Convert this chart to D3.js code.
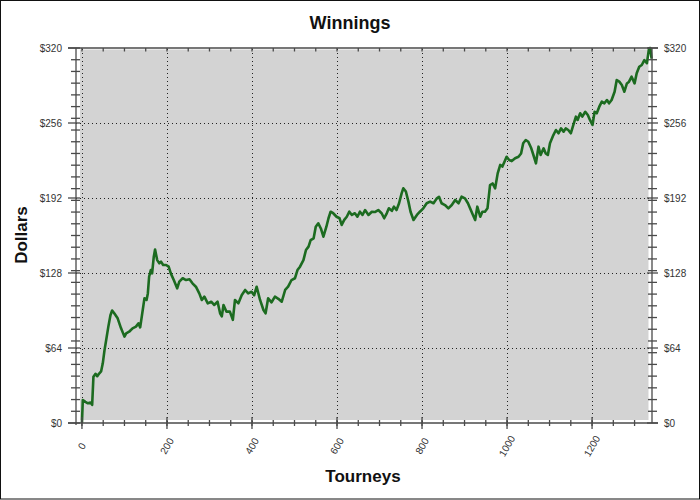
<!DOCTYPE html>
<html>
<head>
<meta charset="utf-8">
<script src="https://cdn.jsdelivr.net/npm/d3@7/dist/d3.min.js"></script>
<style>
html,body{margin:0;padding:0;background:#fff;}
svg{display:block;font-family:Arial,"Liberation Sans",sans-serif;}
</style>
</head>
<body>
<svg id="chart" width="700" height="500"></svg>
<script>
// ---- data ----
const tourneys = [0,2,8,14,20,24,27,32,36,41,45,49,53,57,62,67,71,76,84,92,100,104,111,119,127,133,137,143,147,152,155,158,162,165,169,172,177,182,186,191,198,204,209,216,224,229,237,245,253,260,268,276,282,288,296,304,311,319,325,329,333,340,348,355,360,368,376,384,391,399,405,411,419,427,432,438,446,454,462,470,478,485,493,501,507,513,521,527,533,538,545,550,556,562,568,575,580,585,591,599,606,611,617,623,629,635,642,648,654,660,666,674,682,689,697,705,711,717,722,729,734,740,746,752,756,762,768,773,780,788,795,803,811,819,827,835,840,846,854,862,870,878,886,893,901,908,913,918,925,930,937,942,948,954,960,966,972,978,984,989,994,999,1005,1011,1019,1027,1033,1038,1044,1050,1057,1062,1068,1074,1079,1086,1091,1096,1101,1109,1115,1121,1127,1133,1138,1144,1150,1156,1162,1166,1172,1177,1184,1190,1195,1201,1206,1211,1217,1223,1229,1235,1240,1246,1253,1258,1264,1270,1276,1282,1287,1293,1300,1305,1311,1317,1323,1329,1334,1337,1340];
const dollars = [0,19.6,18,16.8,17.5,15.5,39.5,42,40,42.4,44,50.9,62,70.8,82,92,96,93.6,89.3,80.8,73.7,76.5,77.9,80.8,82.2,85,81.6,96.4,106.4,105,110.6,124.8,130.5,127.7,141.9,148,139,136.3,137.7,134.8,134.8,133.4,127.7,122,114.9,120.6,123.5,122,122.6,119.2,116.3,110.6,105,107.8,102.1,103.5,100.7,103.5,93.6,91,100.7,95,95,88,105,102.1,109.2,113.5,110.6,112,109,116.3,105,96.4,93.6,106.4,103,107.8,106,103.5,113.5,116.3,122,123.5,130.5,133.4,139,147.6,150.5,156,157.6,167.5,170.4,166,159,167.5,174.7,180.3,179,176,174.7,169,173.3,176,180.3,177.5,179,176,180.3,177.5,181.7,177.5,180.3,180,181.7,179,174.7,178.9,183.2,181,184.6,181.7,187.5,196,200.3,197.5,188.9,180.3,173.2,177.5,180.3,183.2,187.5,188.9,187.5,191.7,193,187.5,186,183.2,186,190.3,187.5,193.1,191.7,187.5,183.2,178.9,173.2,184.6,176,180.3,180.3,183.2,203,204.4,200.3,213,220.2,218.8,223,227.2,224.4,223.5,225.9,227.2,230,238.7,241.5,240,234.4,228.7,221.6,235.8,228.7,234.4,230,228.7,238.7,245.7,250,247.2,251.4,248.6,251.4,250,247.2,254.3,261.4,258.6,264.3,261.4,265.6,262.8,258.6,254.3,265.6,264.3,269.9,274.2,272.8,275.6,272.8,275.6,282.7,292.7,291.3,288.4,282.7,289.8,291.3,295.5,289.8,298.4,304,305.5,309.7,307,319.7,320,311];

const xMajorTicks = [0,200,400,600,800,1000,1200];
const xMinorTicks = [0,50,100,150,200,250,300,350,400,450,500,550,600,650,700,750,800,850,900,950,1000,1050,1100,1150,1200,1250,1300];
const yMajorTicks = [0,64,128,192,256,320];
const yMinorTicks = [10,20,30,40,50,60,70,80,90,100,110,120,130,140,150,160,170,180,190,200,210,220,230,240,250,260,270,280,290,300,310];
const titleText = "Winnings";
const xTitle = "Tourneys";
const yTitle = "Dollars";

// ---- drawing ----
const svg = d3.select("#chart");
const L = 76, R = 652, T = 48, B = 423;
const x = d3.scaleLinear().domain([-14, 1341]).range([L, R]);
const y = d3.scaleLinear().domain([0, 320]).range([B, T]);
const axisColor = "#4a4a4a";

// outer frame
svg.append("rect").attr("x",0.5).attr("y",0.5).attr("width",699).attr("height",498.5)
  .attr("fill","#fff").attr("stroke","#111").attr("stroke-width",1);

// plot background
svg.append("rect").attr("x",L+4).attr("y",T+1.5).attr("width",R-L-7.5).attr("height",B-T-4.5)
  .attr("fill","#d3d3d3");

// gridlines
svg.append("g").selectAll("line").data(xMajorTicks).join("line")
  .attr("x1",d=>Math.round(x(d))+0.5).attr("x2",d=>Math.round(x(d))+0.5)
  .attr("y1",T+1).attr("y2",B)
  .attr("stroke","#222").attr("stroke-width",1).attr("stroke-dasharray","1,3");
svg.append("g").selectAll("line").data(yMajorTicks.filter(d=>d>0&&d<320)).join("line")
  .attr("x1",L).attr("x2",R)
  .attr("y1",d=>Math.round(y(d))+0.5).attr("y2",d=>Math.round(y(d))+0.5)
  .attr("stroke","#222").attr("stroke-width",1).attr("stroke-dasharray","1,3");

// data line
const line = d3.line().x((d,i)=>x(tourneys[i])).y(d=>y(d)).curve(d3.curveLinear);
svg.append("path").datum(dollars).attr("d",line)
  .attr("fill","none").attr("stroke","#1c6b20").attr("stroke-width",2.6)
  .attr("stroke-linejoin","round");

// axes lines
const ax = svg.append("g").attr("stroke",axisColor).attr("stroke-width",1.3);
ax.append("line").attr("x1",L-8).attr("x2",R+6).attr("y1",T).attr("y2",T);      // top
ax.append("line").attr("x1",L-8).attr("x2",R+6).attr("y1",B).attr("y2",B);      // bottom
ax.append("line").attr("x1",L).attr("x2",L).attr("y1",T).attr("y2",B+2);        // left
ax.append("line").attr("x1",R).attr("x2",R).attr("y1",T).attr("y2",B);          // right

// left/right y ticks
ax.append("g").selectAll("line").data(yMinorTicks).join("line")
  .attr("x1",L-5).attr("x2",L+4).attr("y1",d=>y(d)).attr("y2",d=>y(d));
ax.append("g").selectAll("line").data(yMajorTicks).join("line")
  .attr("x1",L-8).attr("x2",L+4).attr("y1",d=>y(d)).attr("y2",d=>y(d));
ax.append("g").selectAll("line").data(yMinorTicks).join("line")
  .attr("x1",R-4).attr("x2",R+5).attr("y1",d=>y(d)).attr("y2",d=>y(d));
ax.append("g").selectAll("line").data(yMajorTicks).join("line")
  .attr("x1",R-5).attr("x2",R+6).attr("y1",d=>y(d)).attr("y2",d=>y(d));

// bottom/top x ticks
ax.append("g").selectAll("line").data(xMinorTicks).join("line")
  .attr("x1",d=>x(d)).attr("x2",d=>x(d)).attr("y1",B-3).attr("y2",B+3);
ax.append("g").selectAll("line").data(xMajorTicks).join("line")
  .attr("x1",d=>x(d)).attr("x2",d=>x(d)).attr("y1",B-6).attr("y2",B+6);
ax.append("g").selectAll("line").data(xMinorTicks).join("line")
  .attr("x1",d=>x(d)).attr("x2",d=>x(d)).attr("y1",T).attr("y2",T+3.5);

// y tick labels
const lab = svg.append("g").attr("font-size",10).attr("fill","#333");
lab.selectAll("text.yl").data(yMajorTicks).join("text").attr("class","yl")
  .attr("x",62).attr("y",d=>y(d)+3.5).attr("text-anchor","end").text(d=>"$"+d);
lab.selectAll("text.yr").data(yMajorTicks).join("text").attr("class","yr")
  .attr("x",664).attr("y",d=>y(d)+3.5).attr("text-anchor","start").text(d=>"$"+d);

// x tick labels (rotated)
lab.selectAll("text.xl").data(xMajorTicks).join("text").attr("class","xl")
  .attr("transform",d=>`translate(${x(d)},446) rotate(-60)`)
  .attr("text-anchor","middle").attr("dy","0.35em").text(d=>d);

// titles
svg.append("text").attr("x",350).attr("y",29).attr("text-anchor","middle")
  .attr("font-size",18).attr("font-weight","bold").attr("fill","#111").text(titleText);
svg.append("text").attr("x",363).attr("y",482).attr("text-anchor","middle")
  .attr("font-size",17).attr("font-weight","bold").attr("fill","#111").text(xTitle);
svg.append("text").attr("transform","translate(27,235) rotate(-90)").attr("text-anchor","middle")
  .attr("font-size",17).attr("font-weight","bold").attr("fill","#111").text(yTitle);
</script>
</body>
</html>
